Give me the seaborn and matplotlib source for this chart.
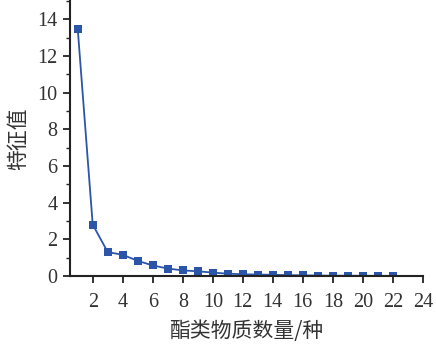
import matplotlib
matplotlib.use("Agg")
import matplotlib.pyplot as plt
import seaborn as sns
import pandas as pd
from matplotlib.ticker import MultipleLocator

components = list(range(1, 23))
eigenvalues = [13.5, 2.8, 1.3, 1.15, 0.82, 0.57, 0.4, 0.3, 0.25, 0.18, 0.12,
               0.09, 0.07, 0.06, 0.04, 0.03, 0.02, 0.01, 0.01, 0.005, 0.003, 0.001]
x_label = "酯类物质数量/种"
y_label = "特征值"

df = pd.DataFrame({"n": components, "ev": eigenvalues})

sns.set_theme(style="ticks")
plt.rcParams['font.family'] = ['Liberation Serif', 'Noto Sans CJK SC']

fig = plt.figure(figsize=(4.36, 3.51), dpi=100)
ax = fig.add_axes([0.161, 0.214, 0.809, 0.783])
color = "#2b55a8"
sns.lineplot(data=df, x="n", y="ev", ax=ax, color=color, linewidth=1.3,
             marker="s", markersize=5.5, markeredgewidth=0, markerfacecolor=color)

ax.set_xlim(0.5, 24)
ax.set_ylim(0, 15)
ax.yaxis.set_major_locator(MultipleLocator(2))
ax.yaxis.set_minor_locator(MultipleLocator(1))
ax.set_xticks(range(2, 25, 2))
ax.tick_params(axis='both', which='major', direction='out', length=5, width=1.3,
               labelsize=14.5, colors="#222222", labelcolor="#333333")
ax.tick_params(axis='x', which='major', pad=7)
ax.tick_params(axis='y', which='major', pad=4)
ax.tick_params(axis='y', which='minor', direction='out', length=3, width=1.0, colors="#222222")
for s in ["top", "right"]:
    ax.spines[s].set_visible(False)
for s in ["left", "bottom"]:
    ax.spines[s].set_linewidth(1.5)
    ax.spines[s].set_color("#222222")

ax.set_xlabel(x_label, fontsize=15, family=['Noto Sans CJK SC', 'DejaVu Sans'], color="#333333", labelpad=6)
ax.set_ylabel(y_label, fontsize=15, family=['Noto Sans CJK SC', 'DejaVu Sans'], color="#333333", labelpad=6)

fig.savefig("out.png", dpi=100)
